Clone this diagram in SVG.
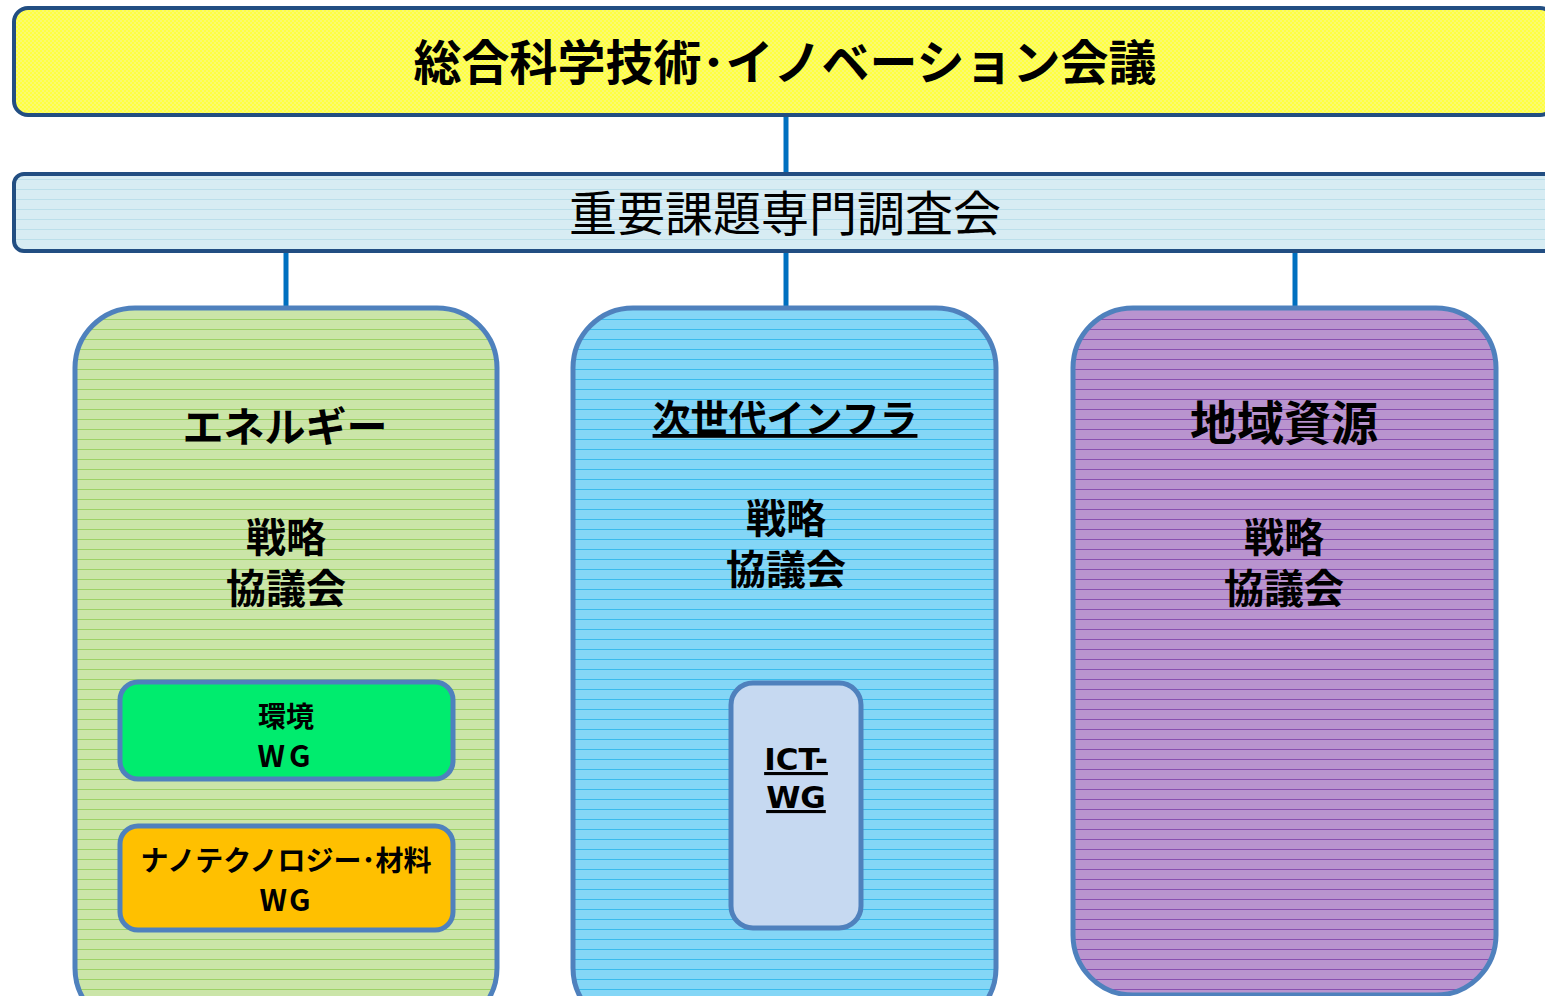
<svg xmlns="http://www.w3.org/2000/svg" width="1545" height="996" viewBox="0 0 1545 996">
<defs>
<pattern id="pY" width="4" height="4" patternUnits="userSpaceOnUse"><rect width="4" height="4" fill="#FFFF40"/><rect width="2" height="2" fill="#FAFA70"/><rect x="2" y="2" width="2" height="2" fill="#FAFA70"/></pattern>
<pattern id="pL" width="10" height="10" patternUnits="userSpaceOnUse"><rect width="10" height="10" fill="#D7ECF3"/><rect y="9" width="10" height="1" fill="#BCDFEA"/></pattern>
<pattern id="pG" width="10" height="10" patternUnits="userSpaceOnUse"><rect width="10" height="10" fill="#CBE5A8"/><rect y="9" width="10" height="1" fill="#9DD267"/></pattern>
<pattern id="pB" width="10" height="10" patternUnits="userSpaceOnUse"><rect width="10" height="10" fill="#84D6F6"/><rect y="9" width="10" height="1" fill="#3ABBEC"/></pattern>
<pattern id="pP" width="10" height="10" patternUnits="userSpaceOnUse"><rect width="10" height="10" fill="#B994CF"/><rect y="9" width="10" height="1" fill="#8A50B0"/></pattern>
</defs>
<style>
.hdr{stroke:#224E82;stroke-width:4}
.big{stroke:#4F81BD;stroke-width:5}
.wg{stroke:#4F81BD;stroke-width:5}
.con line{stroke:#0070C0;stroke-width:5}
text{font-family:"Noto Sans CJK JP","Noto Sans",sans-serif;text-anchor:middle;fill:#000}
.b{font-weight:bold}
.lat{font-family:"DejaVu Sans","Noto Sans CJK JP",sans-serif}
</style>
<g class="con">
<line x1="786" y1="116" x2="786" y2="174"/>
<line x1="286" y1="251" x2="286" y2="308"/>
<line x1="786" y1="251" x2="786" y2="308"/>
<line x1="1295" y1="251" x2="1295" y2="308"/>
</g>
<g id="n-council">
<rect class="hdr" x="14" y="8" width="1540" height="107" rx="14" fill="url(#pY)"/>
<text class="b" x="785" y="80" font-size="48">総合科学技術･イノベーション会議</text>
</g>
<g id="n-committee">
<rect class="hdr" x="14" y="174" width="1540" height="77" rx="10" fill="url(#pL)"/>
<text x="785" y="231" font-size="48">重要課題専門調査会</text>
</g>
<g id="n-energy">
<rect class="big" x="75" y="308" width="422" height="720" rx="60" fill="url(#pG)"/>
<text class="b" x="285" y="442" font-size="41">エネルギー</text>
<text class="b" x="286" y="552" font-size="40">戦略</text>
<text class="b" x="286" y="603" font-size="40">協議会</text>
</g>
<g id="n-env">
<rect class="wg" x="120" y="682" width="333" height="97" rx="18" fill="#00EC6E"/>
<text class="b" x="286" y="727" font-size="28">環境</text>
<text class="b" x="286" y="767" font-size="30" letter-spacing="4">WG</text>
</g>
<g id="n-nano">
<rect class="wg" x="120" y="826" width="333" height="104" rx="18" fill="#FFC000"/>
<text class="b" x="286" y="871" font-size="28">ナノテクノロジー･材料</text>
<text class="b" x="286" y="911" font-size="30" letter-spacing="2">WG</text>
</g>
<g id="n-infra">
<rect class="big" x="573" y="308" width="423" height="720" rx="60" fill="url(#pB)"/>
<text class="b" x="785" y="432" font-size="38" text-decoration="underline">次世代インフラ</text>
<text class="b" x="786" y="533" font-size="40">戦略</text>
<text class="b" x="786" y="584" font-size="40">協議会</text>
</g>
<g id="n-ict">
<rect class="wg" x="731" y="683" width="130" height="245" rx="22" fill="#C6D9F1"/>
<text class="b lat" x="796" y="770" font-size="31" text-decoration="underline">ICT-</text>
<text class="b lat" x="796" y="808" font-size="31" text-decoration="underline">WG</text>
</g>
<g id="n-region">
<rect class="big" x="1073" y="308" width="423" height="687" rx="60" fill="url(#pP)"/>
<text class="b" x="1284" y="440" font-size="47">地域資源</text>
<text class="b" x="1284" y="552" font-size="40">戦略</text>
<text class="b" x="1284" y="603" font-size="40">協議会</text>
</g>
</svg>
